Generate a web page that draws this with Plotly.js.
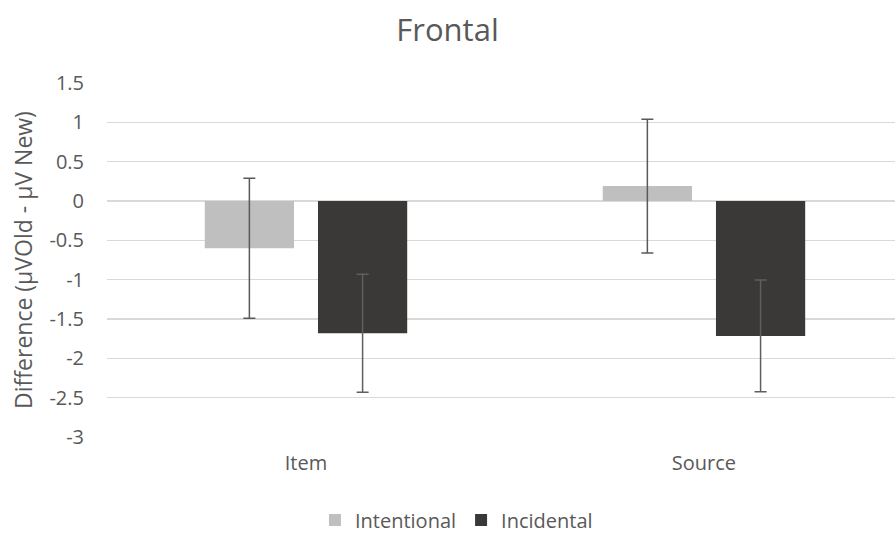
<!DOCTYPE html>
<html>
<head>
<meta charset="utf-8">
<script src="https://cdn.plot.ly/plotly-3.0.1.min.js"></script>
<style>html,body{margin:0;padding:0;background:#fff;}#chart{width:895px;height:534px;}</style>
</head>
<body>
<div id="chart"></div>
<script>
var categories = ["Item", "Source"];
var seriesNames = ["Intentional", "Incidental"];
var intentionalValues = [-0.60, 0.19];
var intentionalErrors = [0.89, 0.85];
var incidentalValues = [-1.68, -1.715];
var incidentalErrors = [0.75, 0.71];
var yTickValues = [1.5, 1, 0.5, 0, -0.5, -1, -1.5, -2, -2.5, -3];
var yTickLabels = ["1.5", "1", "0.5", "0", "-0.5", "-1", "-1.5", "-2", "-2.5", "-3"];

var font = "Open Sans, sans-serif";
var textColor = "#595959";

var traces = [
  {
    type: "bar", name: seriesNames[0], x: categories, y: intentionalValues,
    marker: {color: "#bfbfbf"},
    error_y: {type: "data", array: intentionalErrors, visible: true, color: "#595959", thickness: 1.5, width: 6},
    hoverinfo: "y"
  },
  {
    type: "bar", name: seriesNames[1], x: categories, y: incidentalValues,
    marker: {color: "#3a3937"},
    error_y: {type: "data", array: incidentalErrors, visible: true, color: "#5f5f5f", thickness: 1.5, width: 6},
    hoverinfo: "y"
  }
];

var layout = {
  width: 895, height: 534,
  paper_bgcolor: "#fff", plot_bgcolor: "#fff",
  margin: {l: 107, r: 0, t: 83, b: 97},
  font: {family: font, color: textColor, size: 20},
  title: {text: "Frontal", font: {family: font, size: 31, color: textColor}, x: 0.5, xanchor: "center", xref: "container", y: 0.944, yanchor: "middle", yref: "container"},
  barmode: "group",
  bargap: 0.431,
  bargroupgap: 0.212,
  showlegend: true,
  legend: {
    orientation: "h", x: 0.51, xanchor: "center", xref: "container",
    y: 0.026, yanchor: "middle", yref: "container",
    font: {family: font, size: 20, color: textColor},
    itemwidth: 30, traceorder: "normal", itemclick: false
  },
  xaxis: {
    type: "category", range: [-0.5, 1.48],
    showgrid: false, zeroline: false, showline: false, ticks: "",
    tickfont: {family: font, size: 20, color: textColor},
    ticklabelstandoff: 12, fixedrange: true
  },
  yaxis: {
    range: [-3, 1.5], tickvals: yTickValues, ticktext: yTickLabels,
    showgrid: true, gridcolor: "#d9d9d9", gridwidth: 1.5,
    zeroline: true, zerolinecolor: "#d9d9d9", zerolinewidth: 1.5,
    showline: false, ticks: "",
    tickfont: {family: font, size: 20, color: textColor},
    ticklabelstandoff: 22,
    title: {text: "Difference (µVOld - µV New)", font: {family: font, size: 23, color: textColor}, standoff: 10},
    fixedrange: true
  }
};

Plotly.newPlot("chart", traces, layout, {displayModeBar: false, staticPlot: true});
</script>
</body>
</html>
